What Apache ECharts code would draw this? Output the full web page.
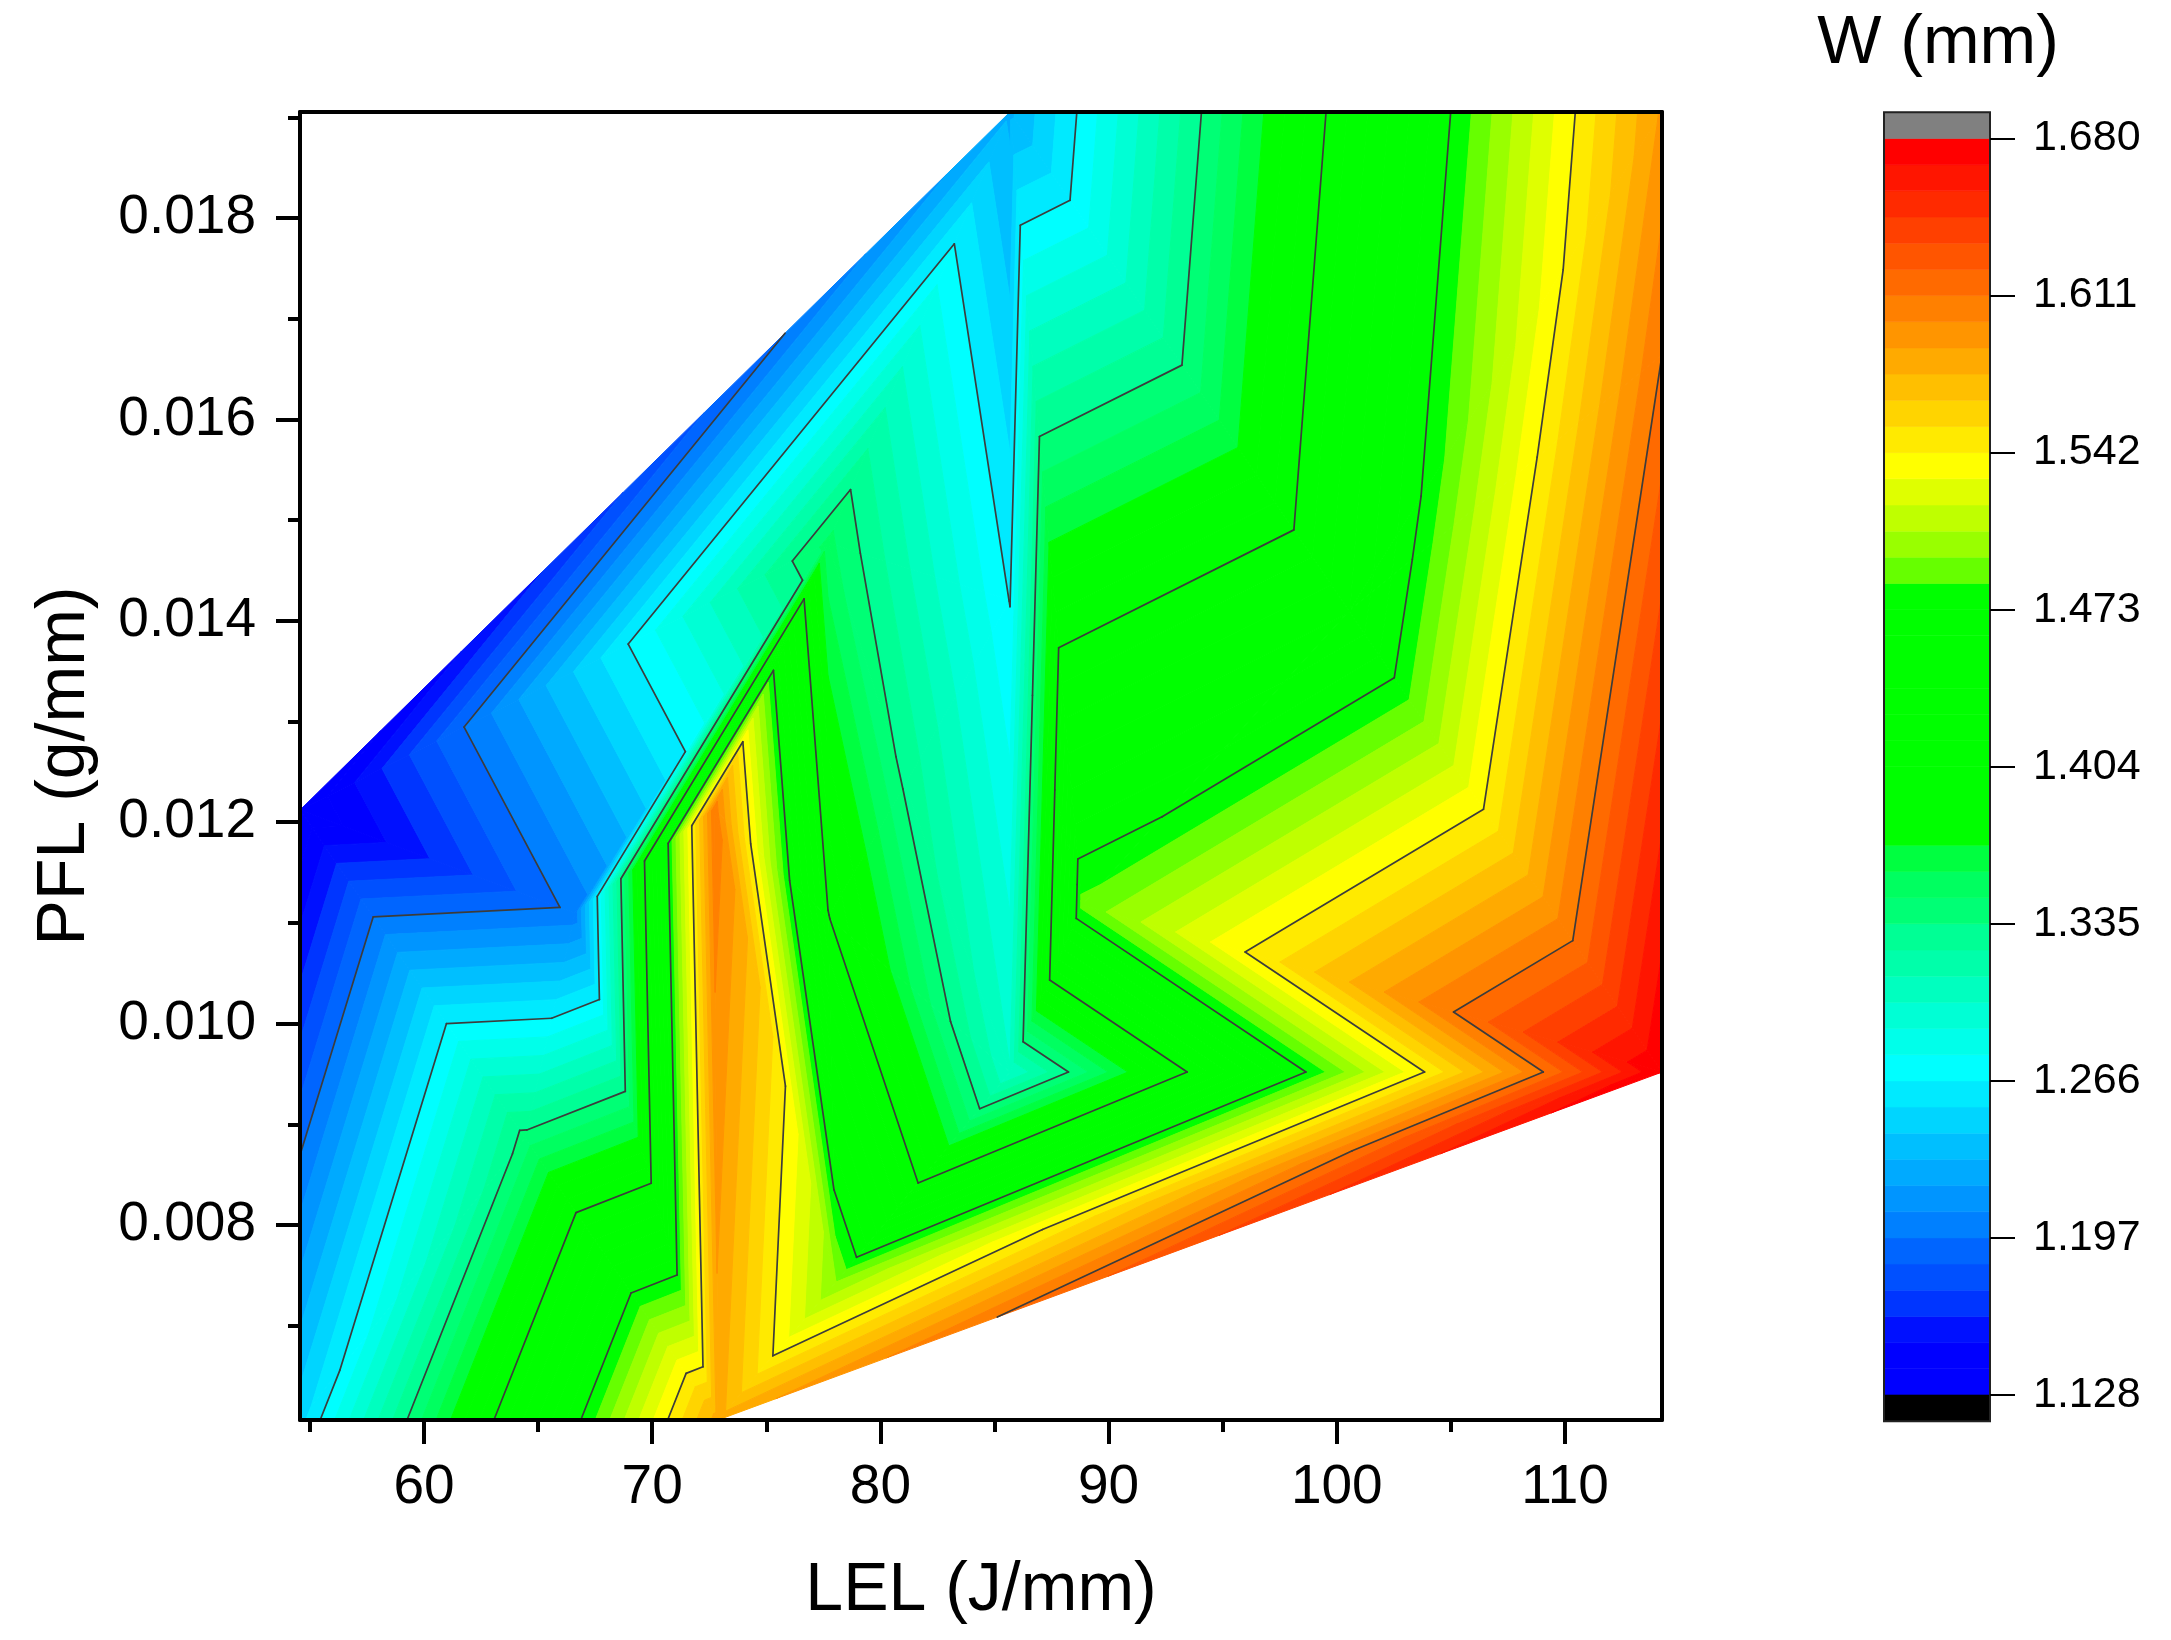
<!DOCTYPE html>
<html>
<head>
<meta charset="utf-8">
<script src="https://cdn.jsdelivr.net/npm/echarts@6/dist/echarts.min.js"></script>
<style>html,body{margin:0;padding:0;background:#fff}#c{width:2171px;height:1640px}</style>
</head>
<body>
<div id="c"></div>
<script>
const nodeNames = ['LT','LB','C','R','TR','E','Top','M','W','V','U','A','X','Z','F','D','P','Y'];
const lel = [54.566,54.566,72.883,114.25,114.25,114.25,85.679,100.535,88.834,85.679,78.054,72.708,77.704,77.704,66.617,64.426,85.679,81.078];
const pfl = [0.012121,0.006064,0.006064,0.009519,0.019053,0.016640,0.019053,0.014097,0.011178,0.009519,0.007434,0.012131,0.014773,0.011059,0.011098,0.008864,0.014206,0.012369];
const width = [1.128,1.250,1.582,1.680,1.590,1.611,1.229,1.438,1.488,1.301,1.496,1.607,1.350,1.405,1.201,1.340,1.2655,1.333];
const triangles = [
 [0,1,15],[1,2,15],[0,15,14],[15,2,14],[14,2,11],[14,11,12],[0,14,12],[0,12,6],[12,6,16],
 [11,2,10],[11,10,13],[11,13,12],[12,13,17],[12,17,16],[16,17,9],[17,13,9],[13,10,9],
 [2,3,10],[10,3,9],[9,3,8],[9,8,16],[16,8,6],[6,8,7],[8,3,7],[7,3,5],[7,5,4],[6,7,4]
];
// Axis ticks
const xMajor = [60,70,80,90,100,110];
const xMinor = [55,65,75,85,95,105];
const yMajor = [0.008,0.010,0.012,0.014,0.016,0.018];
const yMinor = [0.007,0.009,0.011,0.013,0.015,0.017,0.019];
const scaleTicks = [1.128,1.197,1.266,1.335,1.404,1.473,1.542,1.611,1.680];
const bandsPerTick = 6;
// Palette, lowest band first
const bandColors = [
 '#0000ff','#0000ff','#0010ff','#0035ff','#0050ff','#0065ff',
 '#0080ff','#0095ff','#00aaff','#00bfff','#00d5ff','#00eaff',
 '#00ffff','#00ffea','#00ffd5','#00ffbf','#00ffaa','#00ff95',
 '#00ff75','#00ff60','#00ff40','#00ff00','#00ff00','#00ff00',
 '#00ff00','#00ff00','#00ff00','#00ff00','#00ff00','#00ff00',
 '#00ff00','#66ff00','#99ff00','#bfff00','#dfff00','#ffff00',
 '#ffea00','#ffd400','#ffbf00','#ffaa00','#ff9500','#ff8000',
 '#ff6a00','#ff5500','#ff4000','#ff2a00','#ff1500','#ff0000'
];
const FONT = '"Liberation Sans", Arial, sans-serif';

const tickStep = scaleTicks[1]-scaleTicks[0];
const bandStep = tickStep/bandsPerTick;
const bandEdges = bandColors.map((_,i)=>scaleTicks[0]+i*bandStep);

function nodePoint(i){ return [lel[i],pfl[i],width[i]]; }
function lerp(a,b,l){ const t=(l-a[2])/(b[2]-a[2]); return [a[0]+t*(b[0]-a[0]),a[1]+t*(b[1]-a[1]),l]; }
function clip(poly,l,keepAbove){
  const out=[];
  for(let i=0;i<poly.length;i++){
    const a=poly[i],b=poly[(i+1)%poly.length];
    const ina=keepAbove?a[2]>=l:a[2]<l, inb=keepAbove?b[2]>=l:b[2]<l;
    if(ina) out.push(a);
    if(ina!==inb) out.push(lerp(a,b,l));
  }
  return out;
}
const polys=[];
bandColors.forEach((col,k)=>{
  const lo=bandEdges[k], hi=lo+bandStep;
  triangles.forEach(t=>{
    let p=t.map(nodePoint);
    if(k>0) p=clip(p,lo,true);
    if(p.length>=3 && k<bandColors.length-1) p=clip(p,hi,false);
    if(p.length>=3) polys.push({k,pts:p});
  });
});
const segs=[];
scaleTicks.slice(1,-1).forEach(l=>{
  triangles.forEach(t=>{
    const p=t.map(nodePoint), cross=[];
    for(let i=0;i<3;i++){
      const a=p[i],b=p[(i+1)%3];
      if((a[2]>=l)!==(b[2]>=l)) cross.push(lerp(a,b,l));
    }
    if(cross.length===2) segs.push(cross);
  });
});

const xMin=54.566,xMax=114.25,yMin=0.006064,yMax=0.019053;
const lineStyle={color:'#000',width:4};
const noLabel={show:false};
function xBase(extra){return Object.assign({type:'value',gridIndex:0,min:xMin,max:xMax,splitLine:{show:false},z:5},extra);}
function yBase(extra){return Object.assign({type:'value',gridIndex:0,min:yMin,max:yMax,splitLine:{show:false},z:5},extra);}

const option={
  backgroundColor:'#fff',
  animation:false,
  title:{text:'W (mm)',left:1933,top:5,textAlign:'center',textStyle:{fontFamily:FONT,fontSize:68,fontWeight:'normal',color:'#000'}},
  grid:[
    {left:300,top:112,width:1362,height:1308},
    {left:1884,top:138.5,width:106,height:1256.5}
  ],
  xAxis:[
    xBase({position:'bottom',name:'LEL (J/mm)',nameLocation:'middle',nameGap:137,
      nameTextStyle:{fontFamily:FONT,fontSize:68,color:'#000'},
      axisLine:{show:true,onZero:false,lineStyle},
      axisTick:{show:true,length:24,lineStyle:{color:'#000',width:4},customValues:xMajor},
      axisLabel:{show:true,margin:40,fontFamily:FONT,fontSize:55,color:'#000',customValues:xMajor,formatter:v=>String(v)}}),
    xBase({position:'bottom',axisLine:{show:false,onZero:false},
      axisTick:{show:true,length:12,lineStyle:{color:'#000',width:4},customValues:xMinor},axisLabel:noLabel}),
    xBase({position:'top',axisLine:{show:true,onZero:false,lineStyle},axisTick:{show:false},axisLabel:noLabel}),
    {type:'value',gridIndex:1,min:0,max:1,show:false}
  ],
  yAxis:[
    yBase({position:'left',name:'PFL (g/mm)',nameLocation:'middle',nameGap:201,nameRotate:90,
      nameTextStyle:{fontFamily:FONT,fontSize:68,color:'#000'},
      axisLine:{show:true,onZero:false,lineStyle},
      axisTick:{show:true,length:24,lineStyle:{color:'#000',width:4},customValues:yMajor},
      axisLabel:{show:true,margin:44,fontFamily:FONT,fontSize:55,color:'#000',customValues:yMajor,formatter:v=>v.toFixed(3)}}),
    yBase({position:'left',axisLine:{show:false,onZero:false},
      axisTick:{show:true,length:12,lineStyle:{color:'#000',width:4},customValues:yMinor},axisLabel:noLabel}),
    yBase({position:'right',axisLine:{show:true,onZero:false,lineStyle},axisTick:{show:false},axisLabel:noLabel}),
    {type:'value',gridIndex:1,position:'right',min:scaleTicks[0],max:scaleTicks[scaleTicks.length-1],interval:tickStep,
      splitLine:{show:false},axisLine:{show:false,onZero:false},z:5,
      axisTick:{show:true,length:25,lineStyle:{color:'#000',width:2}},
      axisLabel:{show:true,margin:43,fontFamily:FONT,fontSize:43,color:'#000',formatter:v=>v.toFixed(3)}}
  ],
  series:[
    {type:'custom',coordinateSystem:'cartesian2d',xAxisIndex:0,yAxisIndex:0,silent:true,clip:false,z:2,
      data:polys.map((p,i)=>[p.pts[0][0],p.pts[0][1],i]),
      encode:{x:0,y:1},
      renderItem(params,api){
        const p=polys[params.dataIndex], c=bandColors[p.k];
        return {type:'polygon',shape:{points:p.pts.map(q=>api.coord([q[0],q[1]]))},
          style:{fill:c,stroke:c,lineWidth:1}};
      }},
    {type:'custom',coordinateSystem:'cartesian2d',xAxisIndex:0,yAxisIndex:0,silent:true,clip:false,z:3,
      data:segs.map((s,i)=>[s[0][0],s[0][1],i]),
      encode:{x:0,y:1},
      renderItem(params,api){
        const s=segs[params.dataIndex], a=api.coord([s[0][0],s[0][1]]), b=api.coord([s[1][0],s[1][1]]);
        return {type:'line',shape:{x1:a[0],y1:a[1],x2:b[0],y2:b[1]},
          style:{stroke:'#3c3c3c',lineWidth:1.7,lineCap:'round',fill:null}};
      }},
    {type:'custom',coordinateSystem:'cartesian2d',xAxisIndex:3,yAxisIndex:3,silent:true,clip:false,z:2,
      data:bandColors.map((c,i)=>[0,bandEdges[i],i]).concat([[0,scaleTicks[0]-bandStep,48],[0,scaleTicks[8],49]]),
      encode:{x:0,y:1},
      renderItem(params,api){
        const i=params.dataIndex, lo=api.value(1), hi=lo+bandStep;
        const a=api.coord([0,hi]), b=api.coord([1,lo]);
        const col=i<bandColors.length?bandColors[i]:(i===bandColors.length?'#000000':'#808080');
        return {type:'rect',shape:{x:a[0],y:a[1],width:b[0]-a[0],height:b[1]-a[1]},
          style:{fill:col,stroke:col,lineWidth:0.6}};
      }},
    {type:'custom',coordinateSystem:'cartesian2d',xAxisIndex:3,yAxisIndex:3,silent:true,clip:false,z:3,
      data:[[0,scaleTicks[0]-bandStep]],
      encode:{x:0,y:1},
      renderItem(params,api){
        const a=api.coord([0,scaleTicks[8]+bandStep]), b=api.coord([1,scaleTicks[0]-bandStep]);
        return {type:'rect',shape:{x:a[0],y:a[1],width:b[0]-a[0],height:b[1]-a[1]},
          style:{fill:null,stroke:'#222',lineWidth:2}};
      }}
  ]
};
echarts.init(document.getElementById('c')).setOption(option);
</script>
</body>
</html>
